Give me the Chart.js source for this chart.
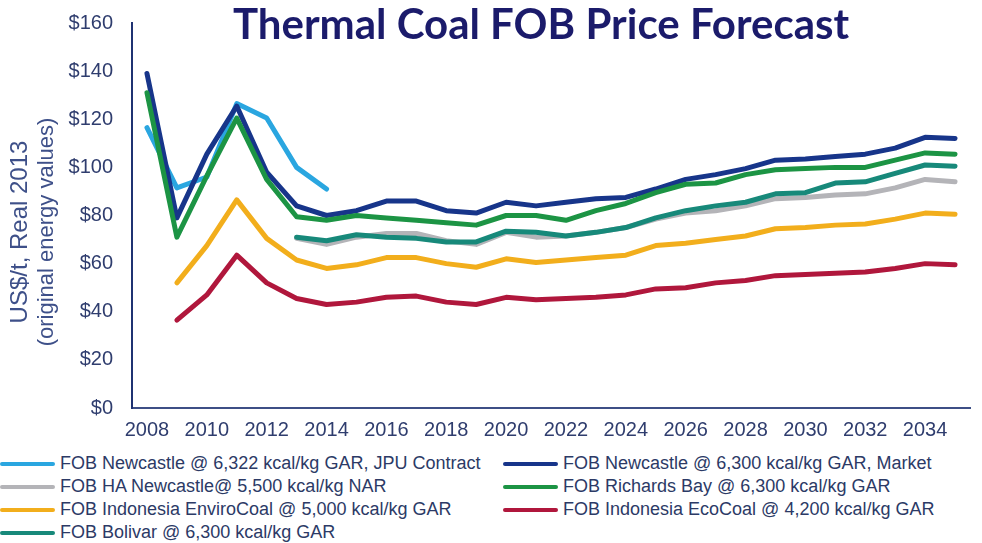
<!DOCTYPE html>
<html>
<head>
<meta charset="utf-8">
<script src="https://cdn.jsdelivr.net/npm/chart.js@4.4.0/dist/chart.umd.min.js"></script>
<style>
  body { margin: 0; background: #fff; }
  #wrap { position: relative; width: 982px; height: 543px; overflow: hidden; }
  #box { position: absolute; left: 0; top: 0; width: 982px; height: 448px; }
  #title {
    position: absolute; left: 0; width: 982px; top: 0; text-align: center;
    font-family: Lato, sans-serif; font-weight: bold; font-size: 42px;
    color: #1b1b6b; line-height: 46px; padding-left: 100px; box-sizing: border-box;
  }
  #legend {
    position: absolute; left: 0; top: 452px; width: 982px;
    display: grid; grid-template-columns: 503px 479px;
    font-family: "Liberation Sans", Arial, sans-serif; font-size: 18px; color: #2c3a66;
  }
  .item { display: flex; align-items: center; height: 23px; white-space: nowrap; }
  .swatch { width: 55px; height: 4px; border-radius: 2px; margin-right: 5px; }
</style>
</head>
<body>
<div id="wrap">
  <div id="box"><canvas id="lineChart"></canvas></div>
  <div id="title">Thermal Coal FOB Price Forecast</div>
  <div id="legend"></div>
</div>
<script>
const years = [2008, 2009, 2010, 2011, 2012, 2013, 2014, 2015, 2016, 2017, 2018, 2019, 2020, 2021,
               2022, 2023, 2024, 2025, 2026, 2027, 2028, 2029, 2030, 2031, 2032, 2033, 2034, 2035];

const jpuContract = [116.5, 91.5, 96, 126.5, 120.5, 100, 91, null, null, null, null, null, null, null,
                     null, null, null, null, null, null, null, null, null, null, null, null, null, null];
const newcastleMarket = [139, 79, 105.5, 125.5, 98, 84, 80, 82, 86, 86, 82, 81, 85.5, 84,
                         85.5, 87, 87.5, 91, 95, 97, 99.5, 103, 103.5, 104.5, 105.5, 108, 112.5, 112];
const haNewcastle = [null, null, null, null, null, 70.5, 68, 71, 72.5, 72.5, 69.5, 68, 73, 71,
                     71.5, 73, 75, 78.5, 81, 82, 84, 87, 87.5, 88.5, 89, 91.5, 95, 94];
const richardsBay = [131, 71, 96.5, 120.5, 95, 79.5, 78, 80, 79, 78, 77, 76, 80, 80,
                     78, 82, 85, 89.5, 93, 93.5, 97, 99, 99.5, 100, 100, 103, 106, 105.5];
const enviroCoal = [null, 52, 67.5, 86.5, 70.5, 61.5, 58, 59.5, 62.5, 62.5, 60, 58.5, 62, 60.5,
                    61.5, 62.5, 63.5, 67.5, 68.5, 70, 71.5, 74.5, 75, 76, 76.5, 78.5, 81, 80.5];
const ecoCoal = [null, 36.5, 47, 63.5, 52, 45.5, 43, 44, 46, 46.5, 44, 43, 46, 45,
                 45.5, 46, 47, 49.5, 50, 52, 53, 55, 55.5, 56, 56.5, 58, 60, 59.5];
const bolivar = [null, null, null, null, null, 71, 69.5, 72, 71, 70.5, 69, 69, 73.5, 73,
                 71.5, 73, 75, 79, 82, 84, 85.5, 89, 89.5, 93.5, 94, 97.5, 101, 100.5];

const yTicks = [0, 20, 40, 60, 80, 100, 120, 140, 160];
const yTitle = ['US$/t, Real 2013', '(original energy values)'];

const tickColor = '#2f3d6e';
const axisColor = '#1f3272';

function series(label, data, color, z) {
    return {
        label: label,
        data: data,
        borderColor: color,
        backgroundColor: color,
        borderWidth: 5,
        pointRadius: 0,
        tension: 0,
        borderCapStyle: 'round',
        borderJoinStyle: 'round',
        order: z
    };
}

const datasets = [
    series('FOB Newcastle @ 6,322 kcal/kg GAR, JPU Contract', jpuContract, '#2aa6e0', 3),
    series('FOB Newcastle @ 6,300 kcal/kg GAR, Market', newcastleMarket, '#17358a', 2),
    series('FOB HA Newcastle@ 5,500 kcal/kg NAR', haNewcastle, '#b4b4b8', 4),
    series('FOB Richards Bay @ 6,300 kcal/kg GAR', richardsBay, '#1c9444', 0),
    series('FOB Indonesia EnviroCoal @ 5,000 kcal/kg GAR', enviroCoal, '#f2ae1c', 5),
    series('FOB Indonesia EcoCoal @ 4,200 kcal/kg GAR', ecoCoal, '#b0173c', 6),
    series('FOB Bolivar @ 6,300 kcal/kg GAR', bolivar, '#17897a', 1)
];

// y axis title: two rotated lines, the first one a bit larger
const yTitlePlugin = {
    id: 'yTitle',
    afterDraw(chart) {
        const ctx = chart.ctx;
        const cy = 232;
        ctx.save();
        ctx.fillStyle = '#3e5089';
        ctx.textAlign = 'center';
        ctx.textBaseline = 'middle';
        ctx.translate(20, cy);
        ctx.rotate(-Math.PI / 2);
        ctx.font = '24px "Liberation Sans"';
        ctx.fillText(yTitle[0], 0, 0);
        ctx.font = '22px "Liberation Sans"';
        ctx.fillText(yTitle[1], 0, 27);
        ctx.restore();
    }
};

new Chart(document.getElementById('lineChart'), {
    type: 'line',
    data: {
        labels: years,
        datasets: datasets
    },
    options: {
        responsive: true,
        maintainAspectRatio: false,
        animation: false,
        layout: {
            padding: { top: 23, right: 12, left: 0, bottom: 0 }
        },
        plugins: {
            legend: { display: false },
            title: { display: false },
            tooltip: { enabled: false }
        },
        scales: {
            x: {
                offset: true,
                grid: { display: false, drawTicks: false },
                border: { display: true, color: '#3d4f86', width: 2 },
                afterFit: function (scale) { scale.height = 40; },
                ticks: {
                    autoSkip: false,
                    maxRotation: 0,
                    padding: 10,
                    color: tickColor,
                    font: { family: 'Liberation Sans', size: 20 },
                    callback: function (value, index) {
                        const y = years[index];
                        return y % 2 === 0 ? String(y) : '';
                    }
                }
            },
            y: {
                min: 0,
                max: 160,
                grid: { display: false, drawTicks: false },
                border: { display: true, color: axisColor, width: 2 },
                afterFit: function (scale) {
                    scale.width = 132;
                    scale.paddingTop = 0;
                    scale.paddingBottom = 0;
                },
                afterBuildTicks: function (scale) {
                    scale.ticks = yTicks.map(v => ({ value: v }));
                },
                ticks: {
                    padding: 19,
                    color: tickColor,
                    font: { family: 'Liberation Sans', size: 20 },
                    callback: v => '$' + v
                }
            }
        }
    },
    plugins: [yTitlePlugin]
});

// legend laid out in two columns like the original
const legendBox = document.getElementById('legend');
datasets.forEach(ds => {
    const item = document.createElement('div');
    item.className = 'item';
    const sw = document.createElement('span');
    sw.className = 'swatch';
    sw.style.background = ds.borderColor;
    item.appendChild(sw);
    item.appendChild(document.createTextNode(ds.label));
    legendBox.appendChild(item);
});
</script>
</body>
</html>
